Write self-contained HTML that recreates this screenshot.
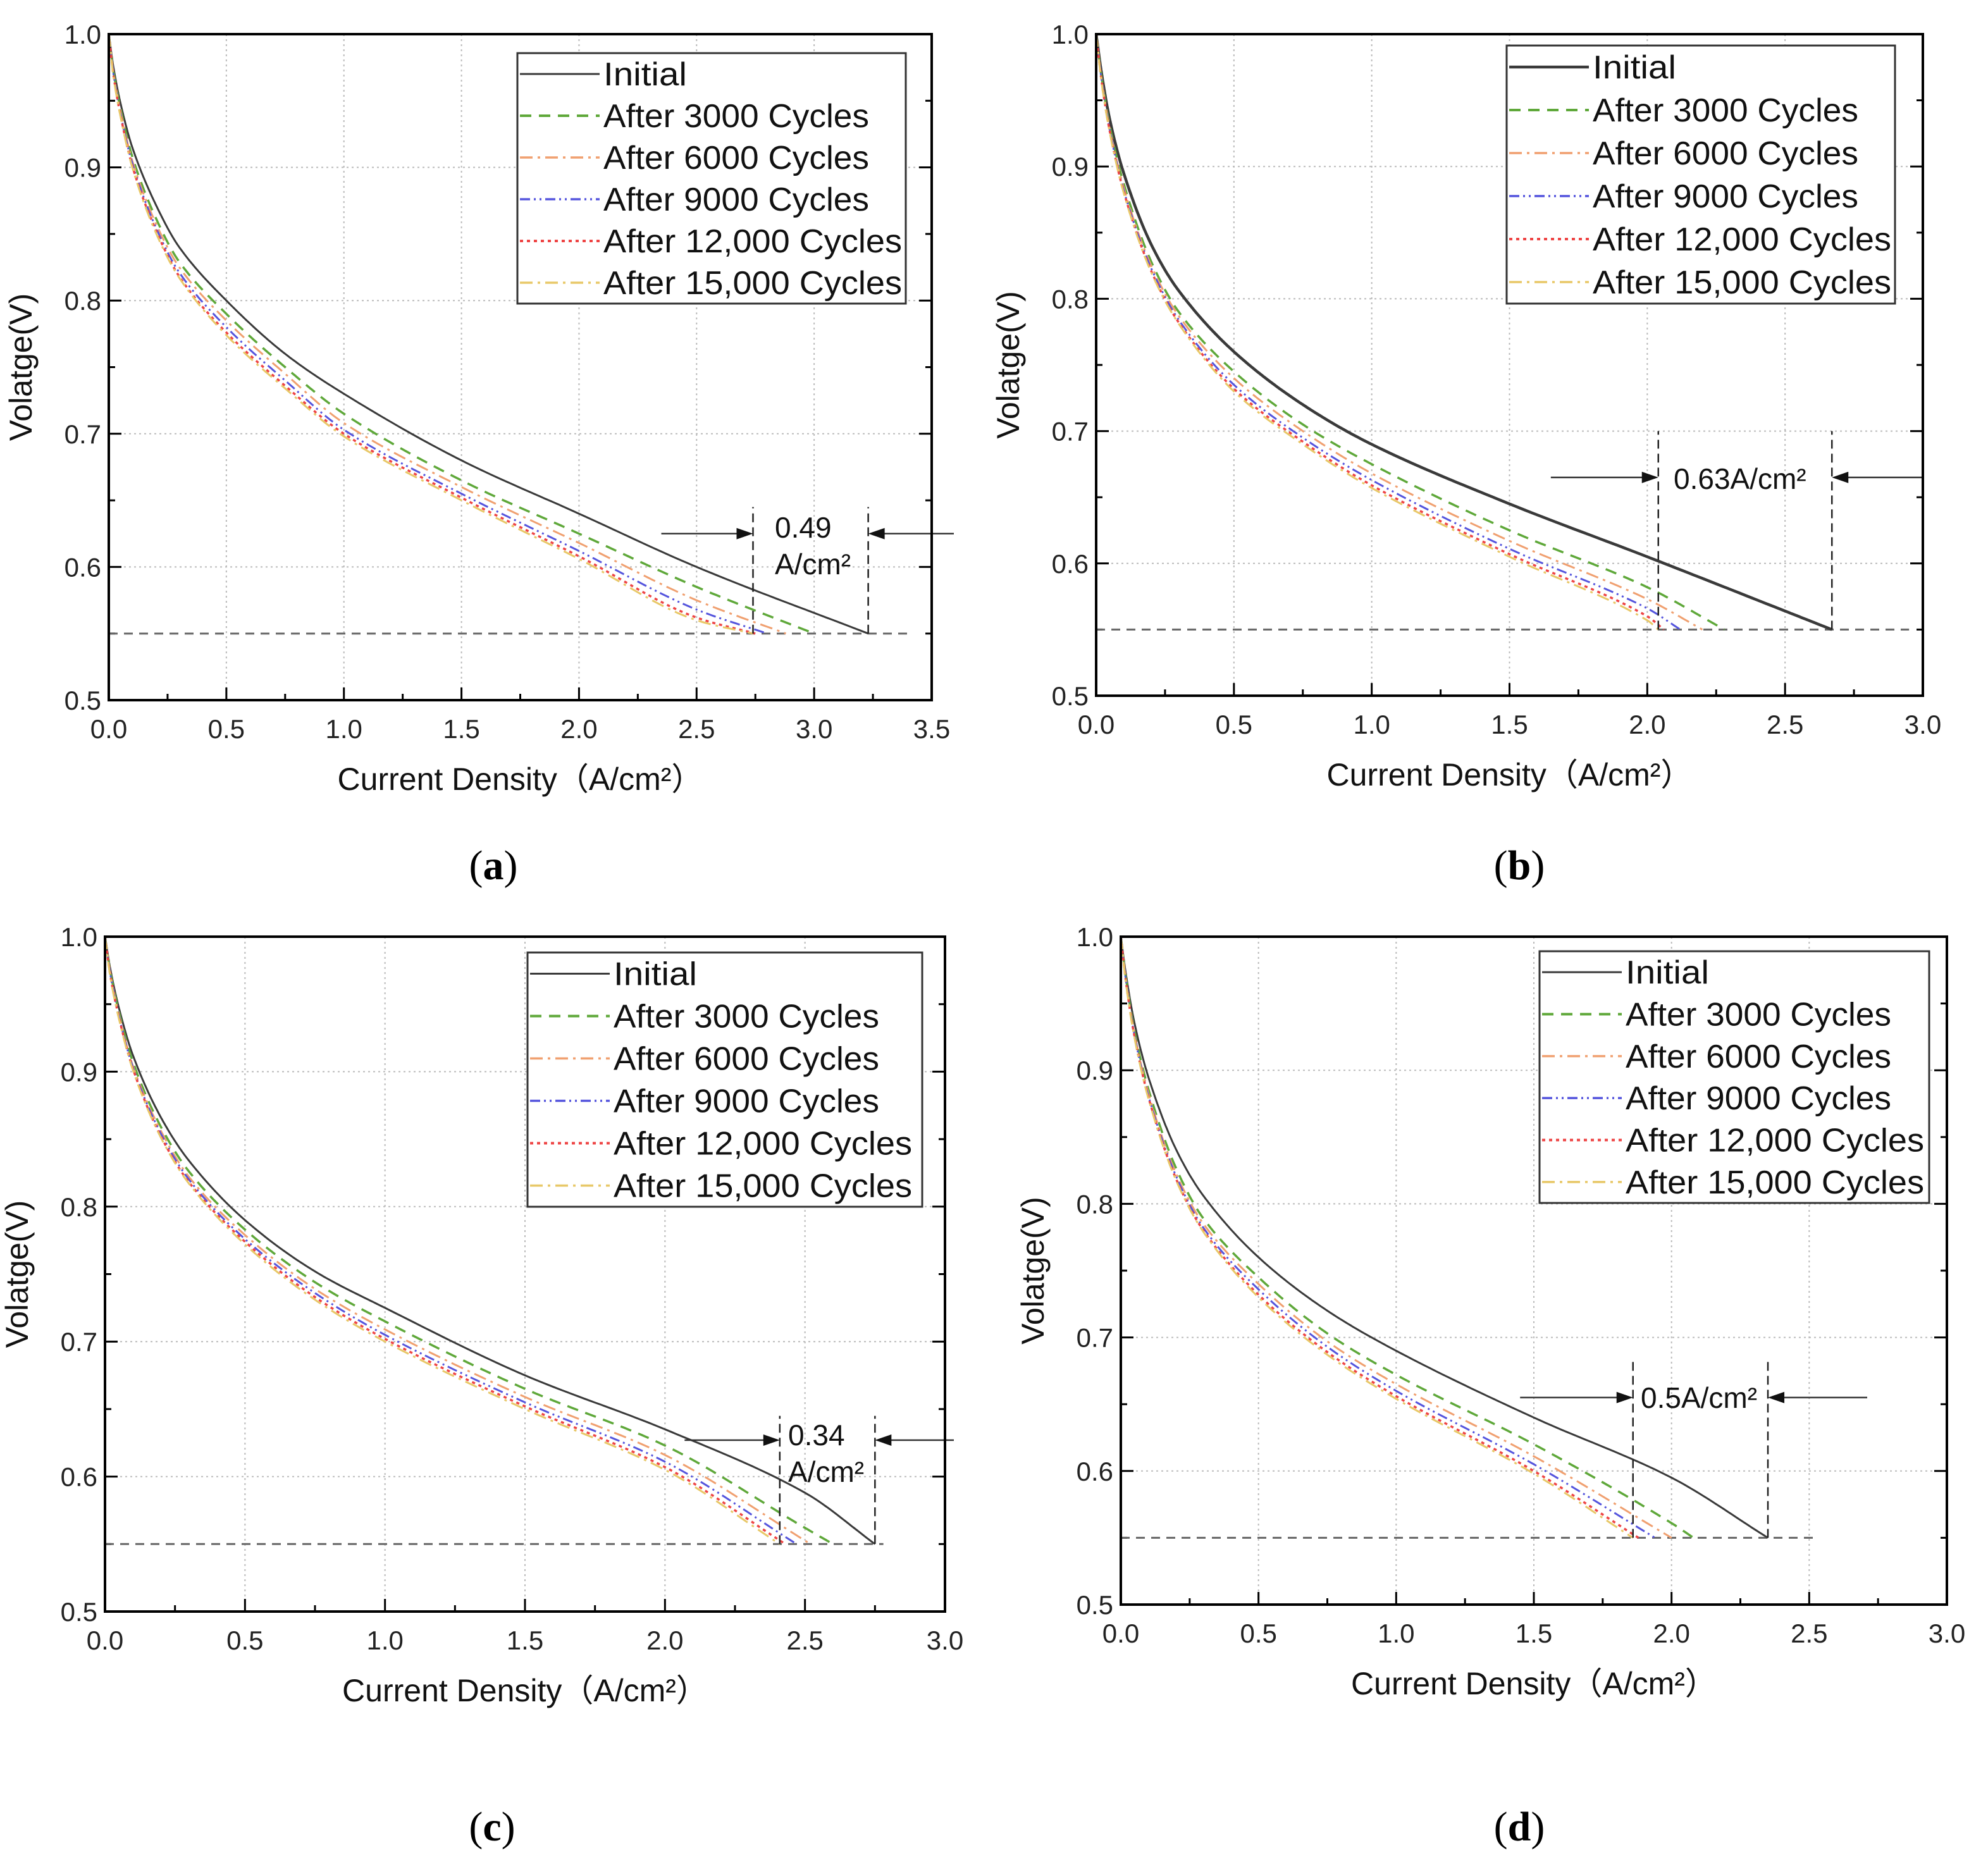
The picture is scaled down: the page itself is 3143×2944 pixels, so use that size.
<!DOCTYPE html>
<html><head><meta charset="utf-8"><style>
html,body{margin:0;padding:0;background:#fff}
svg{display:block}
text{font-family:"Liberation Sans","Noto Sans CJK SC",sans-serif}
text.cap{font-family:"Liberation Serif",serif}
</style></head><body>
<svg id="fig" width="3143" height="2944" viewBox="0 0 3143 2944" xmlns="http://www.w3.org/2000/svg"></svg>
<script>
// ---- data ----
const seriesNames = ["Initial","After 3000 Cycles","After 6000 Cycles","After 9000 Cycles","After 12,000 Cycles","After 15,000 Cycles"];
const currentGrid = [0,0.02,0.05,0.1,0.2,0.3,0.5,0.75,1.0,1.5,2.0,2.5];
const yTicks = [0.5,0.6,0.7,0.8,0.9,1.0];
const cutoffVoltage = 0.55;
// panel a
const aInitial = [1.0,0.975,0.948,0.915,0.872,0.840,0.80,0.76,0.73,0.68,0.64,0.60];
const a3000 = [1.0,0.972,0.944,0.908,0.862,0.829,0.79,0.75,0.715,0.665,0.625,0.585];
const a6000 = [1.0,0.971,0.942,0.905,0.858,0.825,0.785,0.745,0.708,0.66,0.618,0.575];
const a9000 = [1.0,0.97,0.94,0.903,0.855,0.821,0.78,0.74,0.703,0.655,0.612,0.568];
const a12000 = [1.0,0.969,0.939,0.901,0.853,0.818,0.776,0.736,0.700,0.652,0.608,0.562];
const a15000 = [1.0,0.968,0.938,0.900,0.851,0.817,0.774,0.734,0.698,0.650,0.606,0.560];
const aEnds = [3.23,3.0,2.88,2.80,2.75,2.74];
const aXTicks = [0,0.5,1.0,1.5,2.0,2.5,3.0,3.5];
// panel b
const bInitial = [1.0,0.97,0.935,0.895,0.841,0.806,0.76,0.72,0.69,0.645,0.605,0.564];
const b3000 = [1.0,0.967,0.93,0.887,0.828,0.79,0.745,0.705,0.675,0.625,0.582];
const b6000 = [1.0,0.966,0.928,0.884,0.825,0.787,0.74,0.70,0.668,0.617,0.573];
const b9000 = [1.0,0.965,0.927,0.882,0.823,0.784,0.735,0.695,0.663,0.611,0.566];
const b12000 = [1.0,0.964,0.926,0.881,0.821,0.782,0.732,0.692,0.659,0.607,0.560];
const b15000 = [1.0,0.963,0.925,0.88,0.82,0.781,0.730,0.690,0.657,0.605,0.557];
const bEnds = [2.67,2.28,2.2,2.12,2.06,2.04];
const bXTicks = [0,0.5,1.0,1.5,2.0,2.5,3.0];
// panel c
const cInitial = [1.0,0.975,0.947,0.912,0.866,0.834,0.79,0.752,0.725,0.675,0.635,0.588];
const c3000 = [1.0,0.973,0.944,0.907,0.859,0.826,0.783,0.744,0.715,0.665,0.623,0.562];
const c6000 = [1.0,0.972,0.942,0.904,0.856,0.822,0.779,0.739,0.709,0.659,0.616];
const c9000 = [1.0,0.971,0.941,0.903,0.854,0.82,0.776,0.736,0.705,0.655,0.611];
const c12000 = [1.0,0.97,0.94,0.902,0.852,0.818,0.774,0.733,0.702,0.652,0.607];
const c15000 = [1.0,0.969,0.939,0.901,0.851,0.817,0.772,0.731,0.700,0.650,0.605];
const cEnds = [2.75,2.6,2.52,2.47,2.43,2.41];
const cXTicks = [0,0.5,1.0,1.5,2.0,2.5,3.0];
// panel d
const dInitial = [1.0,0.97,0.935,0.895,0.841,0.806,0.76,0.72,0.69,0.64,0.595];
const d3000 = [1.0,0.967,0.929,0.886,0.827,0.789,0.745,0.703,0.672,0.62,0.561];
const d6000 = [1.0,0.966,0.927,0.883,0.823,0.785,0.74,0.697,0.665,0.611];
const d9000 = [1.0,0.965,0.926,0.881,0.821,0.782,0.736,0.693,0.660,0.605];
const d12000 = [1.0,0.964,0.925,0.88,0.819,0.78,0.732,0.689,0.656,0.600];
const d15000 = [1.0,0.963,0.924,0.879,0.818,0.779,0.730,0.687,0.654,0.598];
const dEnds = [2.35,2.08,2.0,1.94,1.88,1.86];
const dXTicks = [0,0.5,1.0,1.5,2.0,2.5,3.0];

const styles = [
  {c:"#3a3a3a",d:"",w:3},
  {c:"#5fa83a",d:"18 12",w:3.5},
  {c:"#f0a070",d:"20 8 4 8",w:3},
  {c:"#5555dd",d:"16 6 3 6 3 6",w:3},
  {c:"#ee4444",d:"5 6",w:3.5},
  {c:"#e8c868",d:"20 8 4 8",w:3}
];
const NS="http://www.w3.org/2000/svg";
const svg=document.getElementById('fig');
function mk(tag,attrs,parent){const e=document.createElementNS(NS,tag);for(const k in attrs)e.setAttribute(k,attrs[k]);(parent||svg).appendChild(e);return e;}
function monoPath(xs,ys,X,Y){
  const n=xs.length,d=[],m=new Array(n);
  for(let i=0;i<n-1;i++)d.push((ys[i+1]-ys[i])/(xs[i+1]-xs[i]));
  m[0]=d[0];m[n-1]=d[n-2];
  for(let i=1;i<n-1;i++){m[i]=(d[i-1]*d[i]<=0)?0:(2*d[i-1]*d[i])/(d[i-1]+d[i]);}
  let s="M"+X(xs[0]).toFixed(1)+","+Y(ys[0]).toFixed(1);
  for(let i=0;i<n-1;i++){
    const h=xs[i+1]-xs[i],steps=24;
    for(let k=1;k<=steps;k++){
      const t=k/steps,t2=t*t,t3=t2*t;
      const v=(2*t3-3*t2+1)*ys[i]+(t3-2*t2+t)*h*m[i]+(-2*t3+3*t2)*ys[i+1]+(t3-t2)*h*m[i+1];
      s+=" L"+X(xs[i]+t*h).toFixed(1)+","+Y(v).toFixed(1);
    }
  }
  return s;
}
function panel(cfg){
  const g=mk('g',{});
  
  
  const L=cfg.L,R=cfg.R,T=cfg.T,B=cfg.B,xmax=cfg.xmax;
  const X=v=>L+(v/xmax)*(R-L);
  const Y=v=>B-(v-0.5)/0.5*(B-T);
  cfg.xt.forEach(v=>{if(v>0&&v<xmax){const l=mk('line',{x1:X(v),x2:X(v),y1:T,y2:B,stroke:"#bbb","stroke-width":2,"stroke-dasharray":"3 5"},g);}});
  yTicks.forEach(v=>{if(v>0.5&&v<1.0){const l=mk('line',{x1:L,x2:R,y1:Y(v),y2:Y(v),stroke:"#bbb","stroke-width":2,"stroke-dasharray":"3 5"},g);}});
  cfg.xt.forEach((v,i)=>{
    mk('line',{x1:X(v),x2:X(v),y1:B,y2:B-20,stroke:"#000","stroke-width":3},g);
    if(i<cfg.xt.length-1){const m=v+0.25;mk('line',{x1:X(m),x2:X(m),y1:B,y2:B-10,stroke:"#000","stroke-width":3},g);}
    const t=mk('text',{x:X(v),y:B+60,"font-size":42,"text-anchor":"middle",fill:"#222"},g);t.textContent=v.toFixed(1);
    
  });
  yTicks.forEach((v,i)=>{
    mk('line',{x1:L,x2:L+20,y1:Y(v),y2:Y(v),stroke:"#000","stroke-width":3},g);
    mk('line',{x1:R,x2:R-20,y1:Y(v),y2:Y(v),stroke:"#000","stroke-width":3},g);
    if(i<yTicks.length-1){const m=v+0.05;mk('line',{x1:L,x2:L+10,y1:Y(m),y2:Y(m),stroke:"#000","stroke-width":3},g);mk('line',{x1:R,x2:R-10,y1:Y(m),y2:Y(m),stroke:"#000","stroke-width":3},g);}
    const t=mk('text',{x:L-12,y:Y(v)+15,"font-size":42,"text-anchor":"end",fill:"#222"},g);t.textContent=v.toFixed(1);
    
  });
  const cl=mk('line',{x1:X(0),x2:X(cfg.cutEnd),y1:Y(cutoffVoltage),y2:Y(cutoffVoltage),stroke:"#666","stroke-width":3,"stroke-dasharray":"14 10"},g);
  
  cfg.series.forEach((vals,si)=>{
    let xs=currentGrid.slice(0,vals.length),ys=vals.slice();
    while(xs.length&&xs[xs.length-1]>=cfg.ends[si]-0.02){xs.pop();ys.pop();}
    xs=xs.concat([cfg.ends[si]]);ys=ys.concat([cutoffVoltage]);
    const s=styles[si];
    const p=mk('path',{d:monoPath(xs,ys,X,Y),fill:"none",stroke:s.c,"stroke-width":si==0?cfg.w0:s.w,"stroke-dasharray":s.d,"stroke-linejoin":"round"},g);
    
    
  });
  const x1=cfg.ends[cfg.ends.length-1],x2=cfg.ends[0];
  [x1,x2].forEach(xv=>{const l=mk('line',{x1:X(xv),x2:X(xv),y1:Y(cutoffVoltage),y2:Y(cfg.vTop),stroke:"#222","stroke-width":2.5,"stroke-dasharray":"14 8"},g);});
  const ay=Y(cfg.arrowY);
  const a1=mk('path',{d:`M${X(cfg.arrowFrom)},${ay}H${X(x1)-22}`,stroke:"#333","stroke-width":2.5},g);
  mk('path',{d:`M${X(x1)},${ay}l-26,-9v18z`,fill:"#111"},g);
  const a2=mk('path',{d:`M${cfg.arrowTo},${ay}H${X(x2)+22}`,stroke:"#333","stroke-width":2.5},g);
  mk('path',{d:`M${X(x2)},${ay}l26,-9v18z`,fill:"#111"},g);
  
  
  cfg.label.forEach((ln,i)=>{
    const t=mk('text',{x:cfg.labelX,y:cfg.labelY+i*58,"font-size":46,fill:"#111"},g);t.textContent=ln;
    
  });
  const fr=mk('rect',{x:L,y:T,width:R-L,height:B-T,fill:"none",stroke:"#000","stroke-width":4},g);
  
  const lg=mk('g',{},g);
  mk('rect',{x:cfg.lg[0],y:cfg.lg[1],width:cfg.lg[2],height:cfg.lg[3],fill:"#fff",stroke:"#333","stroke-width":3},lg);
  const rowH=cfg.lg[3]/6;
  seriesNames.forEach((n,si)=>{
    const ry=cfg.lg[1]+rowH*(si+0.5);
    const s=styles[si];
    const e=mk('g',{},lg);
    mk('line',{x1:cfg.lg[0]+4,x2:cfg.lg[0]+130,y1:ry,y2:ry,stroke:s.c,"stroke-width":si==0?cfg.w0:s.w+0.5,"stroke-dasharray":s.d},e);
    const t=mk('text',{x:cfg.lg[0]+136,y:ry+18,"font-size":52,fill:"#111","textLength":cfg.lgTL[si],"lengthAdjust":"spacingAndGlyphs"},e);t.textContent=n;
  });
  const xt=mk('text',{x:(L+R)/2,y:B+142,"font-size":50,"text-anchor":"middle",fill:"#111"},g);xt.textContent="Current Density\uFF08A/cm\u00B2\uFF09";
  
  const yx=L-122,yy=(T+B)/2;
  const yt=mk('text',{x:yx,y:yy,"font-size":50,"text-anchor":"middle",fill:"#111",transform:`rotate(-90 ${yx} ${yy})`},g);yt.textContent="Volatge(V)";
  
  const cap=mk('text',{x:cfg.capX,y:cfg.capY,"font-size":66,"text-anchor":"middle",fill:"#000","class":"cap"},g);
  cap.innerHTML='(<tspan font-weight="bold">'+cfg.id+'</tspan>)';
  
}
const lgLen=[132,420,420,420,472,472];
panel({id:"a",L:172,R:1473,T:54,B:1107,xmax:3.5,xt:aXTicks,series:[aInitial,a3000,a6000,a9000,a12000,a15000],ends:aEnds,w0:3,lgTL:lgLen,
  cutEnd:3.4,vTop:0.645,arrowY:0.625,arrowFrom:2.35,arrowTo:1508,label:["0.49","A/cm\u00B2"],labelX:1225,labelY:850,
  lg:[818,84,614,396],capX:780,capY:1390});
panel({id:"b",L:1733,R:3040,T:54,B:1100,xmax:3.0,xt:bXTicks,series:[bInitial,b3000,b6000,b9000,b12000,b15000],ends:bEnds,w0:4.5,lgTL:lgLen,
  cutEnd:2.95,vTop:0.70,arrowY:0.665,arrowFrom:1.65,arrowTo:3040,label:["0.63A/cm\u00B2"],labelX:2646,labelY:773,
  lg:[2382,72,614,408],capX:2402,capY:1390});
panel({id:"c",L:166,R:1494,T:1481,B:2548,xmax:3.0,xt:cXTicks,series:[cInitial,c3000,c6000,c9000,c12000,c15000],ends:cEnds,w0:3,lgTL:lgLen,
  cutEnd:2.78,vTop:0.645,arrowY:0.627,arrowFrom:2.07,arrowTo:1508,label:["0.34","A/cm\u00B2"],labelX:1246,labelY:2285,
  lg:[834,1506,624,402],capX:778,capY:2910});
panel({id:"d",L:1772,R:3078,T:1481,B:2537,xmax:3.0,xt:dXTicks,series:[dInitial,d3000,d6000,d9000,d12000,d15000],ends:dEnds,w0:3,lgTL:lgLen,
  cutEnd:2.52,vTop:0.685,arrowY:0.655,arrowFrom:1.45,arrowTo:2952,label:["0.5A/cm\u00B2"],labelX:2594,labelY:2226,
  lg:[2434,1504,616,398],capX:2402,capY:2910});
</script>
</body></html>
